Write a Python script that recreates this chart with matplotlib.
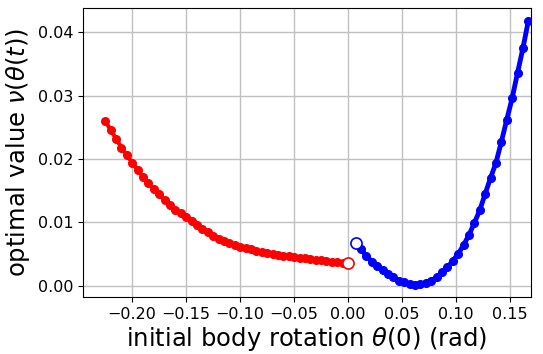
import matplotlib
matplotlib.use("Agg")
import matplotlib.pyplot as plt

# red branch (theta < 0)
red_x = [-0.225, -0.220, -0.215, -0.210, -0.205, -0.200, -0.195, -0.190, -0.185, -0.180,
         -0.175, -0.170, -0.165, -0.160, -0.155, -0.150, -0.145, -0.140, -0.135, -0.130,
         -0.125, -0.120, -0.115, -0.110, -0.105, -0.100, -0.095, -0.090, -0.085, -0.080,
         -0.075, -0.070, -0.065, -0.060, -0.055, -0.050, -0.045, -0.040, -0.035, -0.030,
         -0.025, -0.020, -0.015, -0.010, -0.005, 0.000]
red_y = [0.0260, 0.0246, 0.0232, 0.0218, 0.0206, 0.0194, 0.0183, 0.0172, 0.0162, 0.0152,
         0.0144, 0.0135, 0.0128, 0.0120, 0.0114, 0.0108, 0.0102, 0.0096, 0.0090, 0.0085,
         0.0079, 0.0074, 0.0070, 0.0067, 0.0064, 0.0061, 0.0059, 0.0057, 0.0055, 0.0053,
         0.0051, 0.0050, 0.0048, 0.0047, 0.0046, 0.0045, 0.0044, 0.0043, 0.0042, 0.0041,
         0.0040, 0.0039, 0.0038, 0.0037, 0.0036, 0.0035]

# blue branch (theta > 0)
blue_x = [0.007, 0.012, 0.017, 0.022, 0.027, 0.032, 0.037, 0.042, 0.047, 0.052,
          0.057, 0.062, 0.067, 0.072, 0.077, 0.082, 0.087, 0.092, 0.097, 0.102,
          0.107, 0.112, 0.117, 0.122, 0.127, 0.132, 0.137, 0.142, 0.147, 0.152,
          0.157, 0.162, 0.167]
blue_y = [0.0067, 0.0057, 0.0047, 0.0038, 0.0031, 0.0024, 0.0018, 0.0013, 0.0008, 0.0005,
          0.0002, 0.0001, 0.0002, 0.0004, 0.0008, 0.0013, 0.0021, 0.0029, 0.0039, 0.0050,
          0.0064, 0.0080, 0.0099, 0.0119, 0.0145, 0.0170, 0.0194, 0.0227, 0.0262, 0.0296,
          0.0336, 0.0375, 0.0418]

x_ticks = [-0.20, -0.15, -0.10, -0.05, 0.00, 0.05, 0.10, 0.15]
y_ticks = [0.00, 0.01, 0.02, 0.03, 0.04]

fig = plt.figure(figsize=(5.43, 3.54), dpi=100)
ax = fig.add_axes([0.153, 0.161, 0.825, 0.816])

ax.plot(red_x[:-1], red_y[:-1], '-o', color='red', lw=3, ms=5.5, zorder=3)
ax.plot(red_x[-2:], red_y[-2:], '-', color='red', lw=3, zorder=3)
ax.plot(red_x[-1], red_y[-1], 'o', mfc='white', mec='red', ms=8, mew=1.2, zorder=4)

ax.plot(blue_x, blue_y, '-o', color='blue', lw=3.5, ms=5.5, zorder=3)
ax.plot(blue_x[0], blue_y[0], 'o', mfc='white', mec='blue', ms=8, mew=1.2, zorder=4)

ax.set_xlim(-0.2455, 0.1695)
ax.set_ylim(-0.0018, 0.0438)
ax.set_xticks(x_ticks)
ax.set_xticklabels([f"{t:.2f}".replace('-', '\u2212') for t in x_ticks])
ax.set_yticks(y_ticks)
ax.set_yticklabels([f"{t:.2f}" for t in y_ticks])
ax.tick_params(labelsize=11.5)
ax.grid(True, color='#c0c0c0', lw=1)
ax.set_axisbelow(True)
ax.set_xlabel(r"initial body rotation $\theta(0)$ (rad)", fontsize=17.5, labelpad=2)
ax.set_ylabel(r"optimal value $\nu(\theta(t))$", fontsize=17.5, labelpad=4)

fig.savefig("out.png", dpi=100)
